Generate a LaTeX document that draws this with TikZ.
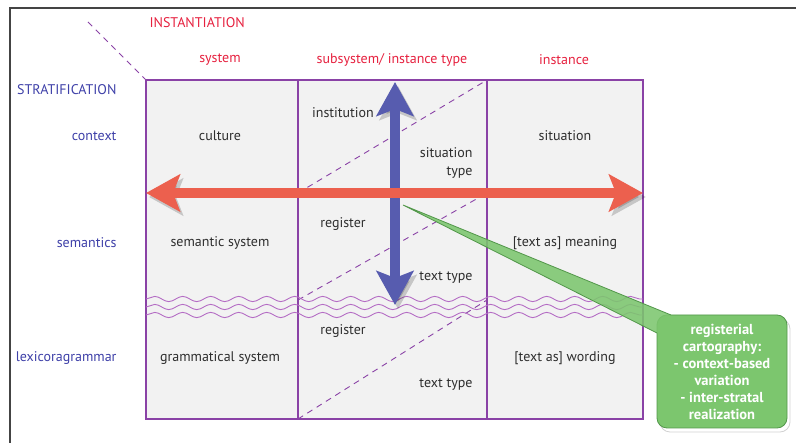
\documentclass[tikz,border=0pt]{standalone}
\usepackage{fontspec}
\setmainfont{PT Sans}
\usetikzlibrary{arrows.meta,decorations.pathmorphing,positioning}

\definecolor{instred}{HTML}{E6213F}
\definecolor{stratblue}{HTML}{3E40A8}
\definecolor{gridpurple}{HTML}{8A42A6}
\definecolor{wavepurple}{HTML}{B46CC4}
\definecolor{cellgray}{HTML}{F2F2F2}
\definecolor{textgray}{HTML}{2E2E2E}
\definecolor{framegray}{HTML}{444444}
\definecolor{arrowred}{HTML}{EC604E}
\definecolor{arrowblue}{HTML}{575CAF}
\definecolor{callgreen}{HTML}{7CC66E}
\definecolor{callborder}{HTML}{52974A}

\tikzset{
	labelfont/.style={font=\fontsize{14}{16}\selectfont},
	instlabel/.style={labelfont, text=instred},
	stratlabel/.style={labelfont, text=stratblue, anchor=east},
	celltext/.style={labelfont, text=textgray},
	cellbox/.style={fill=cellgray, draw=gridpurple, line width=2pt},
	diagline/.style={gridpurple, line width=0.9pt, dash pattern=on 6pt off 5pt},
	waveline/.style={wavepurple, line width=0.9pt, decorate,
		decoration={snake, segment length=28pt, amplitude=2.6pt}},
	shadowed/.style={preaction={draw=black, opacity=.18,
		transform canvas={shift={(3pt,-4pt)}}}},
	bigarrow/.style={line width=10pt,
		{Stealth[length=34pt,width=37pt,inset=7pt]}-{Stealth[length=34pt,width=37pt,inset=7pt]}},
}

\begin{document}
\begin{tikzpicture}[x=1pt,y=-1pt]

		\useasboundingbox (0,0) rectangle (796,443);

		\coordinate (framebot) at (10,443);
		\coordinate (frameright) at (796,8);
		\draw[framegray, line width=1.5pt] (framebot) |- (frameright);

		% grid corners
		\coordinate (c00) at (146, 80);
		\coordinate (c01) at (146,419);
		\coordinate (c10) at (298, 80);
		\coordinate (c11) at (298,419);
		\coordinate (c20) at (487, 80);
		\coordinate (c21) at (487,419);
		\coordinate (c30) at (643, 80);
		\coordinate (c31) at (643,419);

		\coordinate (m1) at (298,193);
		\coordinate (m2) at (487,193);
		\coordinate (m3) at (298,300);
		\coordinate (m4) at (487,300);

		\coordinate (diagstart) at (88,22);

		\filldraw[cellbox] (c00) rectangle (c11);
		\filldraw[cellbox] (c10) rectangle (c21);
		\filldraw[cellbox] (c20) rectangle (c31);

		\draw[diagline] (diagstart) -- (c00);
		\draw[diagline] (m1) -- (c20);
		\draw[diagline] (m3) -- (m2);
		\draw[diagline] (c11) -- (m4);

		\coordinate (w1a) at (146,299);
		\coordinate (w1b) at (643,299);
		\coordinate (w2a) at (146,307);
		\coordinate (w2b) at (643,307);
		\coordinate (w3a) at (146,315);
		\coordinate (w3b) at (643,315);

		\draw[waveline] (w1a) -- (w1b);
		\draw[waveline] (w2a) -- (w2b);
		\draw[waveline] (w3a) -- (w3b);

		% headings
		\node (instantiation) at (146,23) [instlabel, anchor=west] {INSTANTIATION};
		\node (system) at (220,60) [instlabel] {system};
		\node (subsystem) at (392,60) [instlabel] {subsystem/ instance type};
		\node (instance) at (564,60) [instlabel] {instance};

		\node (stratification) at (120,90) [stratlabel] {STRATIFICATION};
		\node (context) at (120,136) [stratlabel] {context};
		\node (semantics) at (120,243) [stratlabel] {semantics};
		\node (lexgram) at (120,358) [stratlabel] {lexicoragrammar};

		% cells
		\node (culture) at (220,136) [celltext] {culture};
		\node (semsystem) at (220,243) [celltext] {semantic system};
		\node (gramsystem) at (220,358) [celltext] {grammatical system};

		\node (institution) at (343,113) [celltext] {institution};
		\node (sittype) at (476,163) [celltext, anchor=east, align=right,
			font=\fontsize{14}{18}\selectfont] {situation\\type};
		\node (register1) at (343,224) [celltext] {register};
		\node (texttype1) at (446,278) [celltext] {text type};
		\node (register2) at (343,331) [celltext] {register};
		\node (texttype2) at (446,385) [celltext] {text type};

		\node (situation) at (565,136) [celltext] {situation};
		\node (meaning) at (565,243) [celltext] {[text as] meaning};
		\node (wording) at (565,358) [celltext] {[text as] wording};

		% cline of instantiation and stratification arrows
		\coordinate (bluetop) at (395, 82);
		\coordinate (bluebot) at (395,305);
		\draw[bigarrow, shadowed, arrowblue] (bluebot) -- (bluetop);

		\coordinate (redleft) at (146,193);
		\coordinate (redright) at (643,193);
		\draw[bigarrow, shadowed, arrowred] (redleft) -- (redright);

		% callout
		\node (callout) at (722,371.5) [shadowed, fill=callgreen, draw=callborder, line width=0.8pt,
			rounded corners=10pt, minimum width=130pt, minimum height=113pt, inner sep=2pt,
			text=white, align=center, font=\bfseries\fontsize{14.5}{17}\selectfont]
			{registerial\\cartography:\\- context-based\\variation\\- inter-stratal\\realization};

		\coordinate (calltip) at (403,205);
		\coordinate (callA) at (671,315);
		\coordinate (callB) at (657,333);
		\coordinate (callin) at (675,335);
		\fill[callgreen, fill opacity=.88] (calltip) -- (callA) -- (callin) -- (callB) -- cycle;
		\draw[callborder, line width=0.8pt] (callA) -- (calltip) -- (callB);

	\end{tikzpicture}
\end{document}
